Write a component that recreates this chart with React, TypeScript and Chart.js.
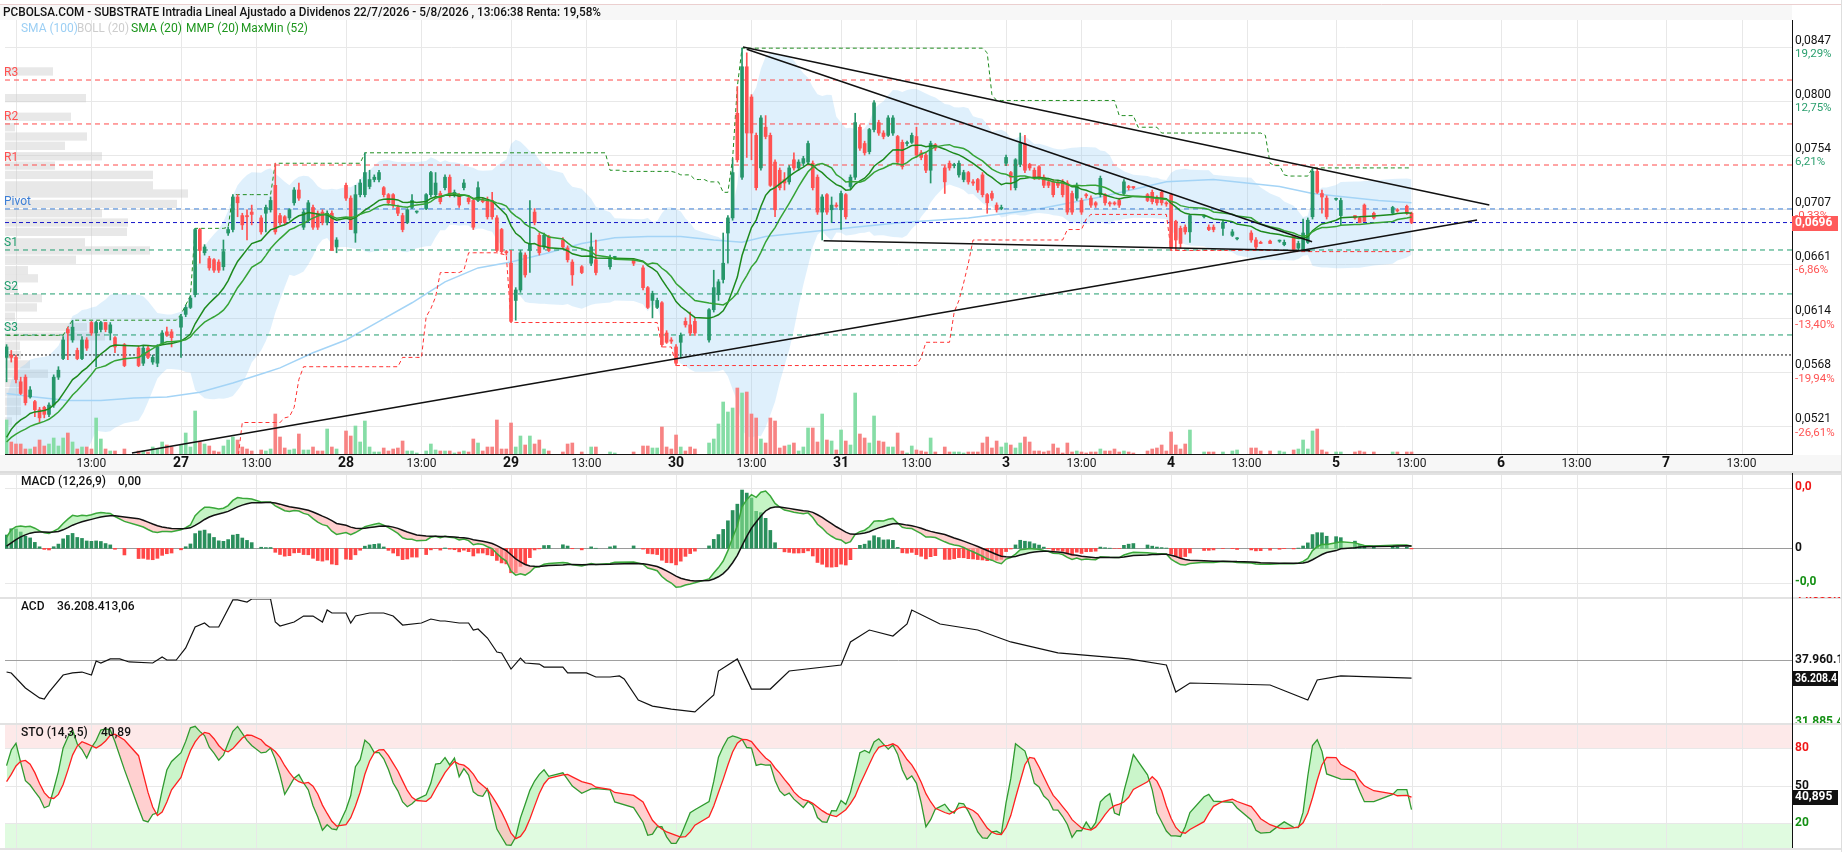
import React, { useEffect, useRef } from "react";
import { Chart, registerables } from "chart.js";

Chart.register(...registerables);

const FONT = 'Roboto, "Liberation Sans", Arial, sans-serif';
Chart.defaults.font.family = FONT;

const _ = null;

/* ---------------- texts ---------------- */
const TITLE = "PCBOLSA.COM - SUBSTRATE Intradia Lineal Ajustado a Dividenos 22/7/2026 - 5/8/2026 , 13:06:38 Renta: 19,58%";
const legendLabels = ["SMA (100)", "BOLL (20)", "SMA (20)", "MMP (20)", "MaxMin (52)"];

/* ---------------- x axis (one slot = 15 min bar) ---------------- */
const dayLabels = ["27", "28", "29", "30", "31", "3", "4", "5", "6", "7"];
const dayStartSlots = [37, 72, 107, 142, 177, 212, 247, 282, 317, 352];
const hourLabel = "13:00";
const hourSlots = [18, 53, 88, 123, 158, 193, 228, 263, 298, 333, 368];
const unlabeledDayStarts = [2];
const X_MIN = -0.33;
const X_MAX = 378.7;

/* ---------------- price axis ---------------- */
const priceTickValues = [0.0847, 0.08004, 0.07539, 0.07073, 0.06607, 0.06142, 0.05676, 0.0521];
const priceTickLabels = ["0,0847", "0,0800", "0,0754", "0,0707", "0,0661", "0,0614", "0,0568", "0,0521"];
const pctTickLabels = ["19,29%", "12,75%", "6,21%", "-0,33%", "-6,86%", "-13,40%", "-19,94%", "-26,61%"];
const PRICE_MAX = 0.087023;
const PRICE_MIN = 0.049691;

/* ---------------- pivots / levels ---------------- */
const pivotNames = ["R3", "R2", "R1", "Pivot", "S1", "S2", "S3"];
const pivotValues = [0.08186, 0.07808, 0.07455, 0.07077, 0.06724, 0.06346, 0.05993];
const lastPrice = 0.0696;
const lastPriceLabel = "0,0696";
const refLevel = 0.05821;

/* ---------------- trend lines [slot, price] ---------------- */
const trendLines = [
  [[26.6, 0.04978], [311.9, 0.06982]],
  [[156.2, 0.0847], [314.5, 0.07111]],
  [[157.0, 0.0845], [276.9, 0.06795]],
  [[173.3, 0.06804], [276.5, 0.06718]],
];

/* ---------------- candles, prices in units of 0.0001 ---------------- */
const openPips = [
  580,582,580,559,563,546,542,535,537,531,
  539,563,579,604,595,586,579,595,610,601,
  604,610,601,597,_,591,_,_,588,575,
  588,576,575,592,602,602,_,606,617,623,
  634,690,670,665,664,662,658,687,690,718,
  702,702,705,_,700,704,707,728,702,701,
  700,713,724,692,698,709,704,705,696,704,
  675,_,728,717,687,720,720,727,733,733,
  726,720,720,709,702,696,709,705,_,708,
  720,720,721,726,735,720,720,726,717,715,
  715,715,715,715,700,690,671,661,629,638,
  668,672,705,685,675,684,_,_,681,674,
  662,_,658,_,661,664,_,_,658,666,
  _,_,_,664,_,657,640,629,623,627,
  601,595,589,593,611,608,611,_,_,595,
  621,634,647,687,700,790,735,830,804,771,
  743,778,771,748,741,733,731,750,743,747,
  748,747,735,705,720,707,711,707,720,727,
  735,778,764,757,776,782,773,771,773,770,
  765,764,765,770,756,754,741,763,_,743,
  747,745,737,733,739,731,733,737,720,721,
  711,708,747,739,726,746,764,746,741,744,
  735,731,731,730,731,730,721,717,715,720,
  717,713,720,720,713,713,715,721,727,727,
  _,_,720,722,717,722,713,720,697,691,
  692,688,_,_,701,692,692,_,691,_,
  685,682,_,_,687,681,679,_,680,_,
  680,677,_,684,674,672,679,701,740,721,
  717,_,716,702,_,_,702,700,711,_,
  704,_,_,_,704,707,_,710,704,
];
const highPips = [
  591,586,582,563,565,555,543,537,538,541,
  565,572,598,606,612,588,598,597,611,611,
  611,610,610,598,_,592,_,_,590,590,
  590,582,591,603,606,604,_,617,625,633,
  691,691,677,667,665,664,681,692,720,720,
  704,707,711,_,702,711,718,747,704,702,
  708,726,730,707,715,711,706,707,706,706,
  683,_,730,719,728,733,756,741,737,741,
  727,721,721,711,704,708,720,706,_,721,
  740,739,723,737,737,724,721,733,719,717,
  731,717,718,722,702,691,672,672,640,672,
  670,715,708,687,687,685,_,_,683,676,
  664,_,659,_,687,681,_,_,668,667,
  _,_,_,665,_,659,641,637,631,628,
  603,597,591,601,614,619,614,_,_,622,
  655,647,687,702,751,813,846,842,806,773,
  788,788,773,750,743,739,745,756,750,753,
  766,749,737,720,721,718,713,723,721,737,
  790,780,766,777,801,784,775,788,788,771,
  767,766,773,778,758,756,766,764,_,745,
  749,747,749,741,740,733,734,739,721,723,
  713,711,754,740,751,773,771,747,743,745,
  737,733,733,732,733,732,723,730,717,721,
  719,714,736,721,714,714,717,733,728,727,
  _,_,721,724,719,724,714,721,698,693,
  694,703,_,_,702,694,694,_,698,_,
  690,683,_,_,689,683,680,_,681,_,
  681,681,_,685,680,699,700,743,743,724,
  719,_,717,717,_,_,702,701,712,_,
  705,_,_,_,710,708,_,711,705,
];
const lowPips = [
  559,576,558,548,539,545,529,524,528,529,
  537,561,578,578,593,578,578,586,599,572,
  602,602,595,584,_,572,_,_,572,573,
  579,574,572,591,598,589,_,580,615,622,
  632,661,668,655,653,653,655,685,688,701,
  690,681,694,_,686,688,705,686,694,694,
  698,711,715,690,696,690,690,694,694,672,
  670,_,715,690,679,718,718,725,731,731,
  718,711,709,702,688,695,708,704,_,707,
  718,718,712,724,718,718,709,724,712,690,
  714,713,699,699,671,669,668,610,612,636,
  649,653,694,668,673,671,_,_,673,662,
  642,_,652,_,659,651,_,_,656,665,
  _,_,_,659,_,638,622,614,622,589,
  592,592,573,580,606,599,599,_,_,593,
  619,629,644,661,698,748,733,752,750,724,
  741,768,727,701,724,724,729,741,741,745,
  746,724,703,681,703,696,709,690,699,725,
  733,758,754,755,774,771,768,770,771,746,
  742,762,764,752,750,739,730,758,_,721,
  741,743,735,731,729,728,722,718,704,715,
  705,707,745,724,724,744,739,741,733,733,
  726,726,718,726,718,703,703,715,703,717,
  709,709,718,711,710,711,709,720,724,725,
  _,_,714,712,711,711,710,672,672,674,
  686,679,_,_,700,689,688,_,685,_,
  684,681,_,_,679,673,678,_,678,_,
  679,676,_,671,672,672,678,699,721,704,
  699,_,715,694,_,_,699,696,697,_,
  699,_,_,_,703,705,_,703,695,
];
const closePips = [
  589,580,561,549,541,552,535,528,531,539,
  563,569,595,601,606,579,595,588,601,610,
  610,604,608,589,_,573,_,_,573,588,
  580,580,589,601,599,597,_,615,623,631,
  690,672,675,657,655,655,671,690,718,713,
  694,701,703,_,688,709,715,688,696,696,
  707,724,717,705,713,692,692,696,704,672,
  681,_,717,690,720,730,739,733,735,739,
  720,713,711,704,690,707,715,705,_,720,
  739,730,714,735,720,722,711,730,714,692,
  726,714,701,701,672,671,670,611,638,670,
  651,678,696,670,685,672,_,_,675,664,
  651,_,653,_,675,653,_,_,666,666,
  _,_,_,661,_,640,623,635,629,591,
  593,594,575,599,608,601,601,_,_,621,
  640,645,661,700,739,750,830,773,773,726,
  786,770,728,707,726,730,743,743,748,751,
  764,726,705,718,705,711,710,721,701,735,
  782,760,756,776,799,773,770,786,786,748,
  744,764,771,754,752,741,764,760,_,731,
  743,745,747,739,731,730,724,720,713,717,
  707,709,752,735,750,764,741,743,735,735,
  728,728,720,728,720,705,705,728,705,719,
  711,711,734,713,712,712,711,731,726,726,
  _,_,715,714,713,713,712,674,681,678,
  688,702,_,_,701,690,690,_,696,_,
  688,682,_,_,681,675,678,_,678,_,
  680,679,_,673,678,687,698,740,722,718,
  701,_,716,715,_,_,700,696,697,_,
  700,_,_,_,709,706,_,704,696,
];
/* volume, thousands of units */
const volume = [
  34,12,10,10,5,5,7,14,8,10,
  16,8,16,21,12,5,7,7,5,36,
  15,5,3,3,_,5,_,_,3,3,
  2,7,5,12,9,7,_,9,21,7,
  43,12,10,8,3,2,8,14,17,14,
  7,5,3,_,4,3,5,40,17,6,
  4,5,20,4,4,7,3,3,25,7,
  5,_,23,18,28,12,33,7,2,2,
  6,3,5,6,13,3,3,1,_,3,
  10,4,3,3,3,1,2,3,2,15,
  11,3,7,7,34,5,5,31,7,18,
  9,18,10,14,5,3,_,_,2,10,
  11,_,2,_,7,7,_,_,2,1,
  _,_,_,2,_,8,8,6,6,27,
  7,5,19,7,3,7,5,_,_,11,
  15,30,52,42,46,66,61,62,40,36,
  15,11,36,33,6,8,9,11,3,7,
  26,26,12,40,14,13,4,24,13,9,
  61,20,16,11,38,13,12,7,7,21,
  3,1,8,4,3,2,16,2,_,7,
  2,2,2,1,2,2,2,11,17,6,
  13,7,11,9,6,11,17,12,3,3,
  2,3,10,6,1,11,2,3,2,1,
  2,2,5,3,3,5,2,3,2,1,
  _,_,3,5,6,9,3,22,9,5,
  10,24,_,_,2,2,2,_,2,_,
  3,4,_,_,6,6,3,_,3,_,
  3,2,_,4,5,14,5,23,25,4,
  2,_,2,2,_,_,2,3,2,_,
  2,_,_,_,2,2,_,2,2,
];

/* price level of the bars before the window (where SMA (20) starts), used only to warm up indicators */
const priorCloseLevel = 0.0503;
const warmupBars = 30;

/* ---------------- SMA (100) ---------------- */
const sma100Slots = [0, 6, 13, 20, 27, 34, 41, 48, 55, 58, 65, 72, 79, 86, 93, 100, 107, 115, 122, 129, 136, 143, 150, 156, 161, 175, 190, 204, 218, 232, 246, 256, 263, 270, 277, 284, 291, 298];
const sma100Values = [0.0549, 0.0546, 0.0543, 0.0543, 0.0545, 0.0546, 0.055, 0.0558, 0.0567, 0.0571, 0.0584, 0.0595, 0.0611, 0.0627, 0.0645, 0.0657, 0.0662, 0.067, 0.0678, 0.0683, 0.0684, 0.0684, 0.0681, 0.0679, 0.0684, 0.069, 0.0696, 0.07, 0.0707, 0.0718, 0.0731, 0.0733, 0.073, 0.0727, 0.0721, 0.0718, 0.0715, 0.0713];

/* MaxMin(52) values carried in from before the window */
const priorHigh = 0.0599;
const priorHighUntil = 14;
const priorLow = 0.049;
const priorLowUntil = 50;

/* ---------------- volume profile (price level, volume) ---------------- */
const vpPrice = [0.0826, 0.0803, 0.0787, 0.0778, 0.077, 0.0762, 0.0753, 0.0745, 0.0737, 0.0728, 0.0721, 0.0712, 0.0704, 0.0696, 0.0688, 0.0679, 0.0672, 0.0664, 0.0655, 0.0648, 0.0639, 0.0631, 0.0623, 0.0615, 0.0606, 0.0598, 0.059, 0.0582, 0.0574, 0.0566, 0.0558, 0.055, 0.0542, 0.0534, 0.0525];
const vpVolume = [48, 81, 66, 10, 82, 60, 97, 50, 148, 148, 183, 172, 97, 123, 122, 80, 145, 71, 23, 33, 13, 37, 32, 10, 82, 100, 15, 16, 25, 43, 16, 16, 16, 16, 7];

/* ---------------- ACD (millions) ---------------- */
const acdSlots = [0,1,4,7,8,9,12,14,16,18,19,20,22,24,26,31,33,34,36,38,40,42,43,45,46,48,49,51,52,56,57,58,61,63,65,67,68,69,72,73,74,77,80,82,84,88,90,92,93,96,98,99,100,102,104,105,107,109,110,113,114,118,119,123,125,128,130,131,134,137,141,146,150,151,155,158,162,166,177,179,183,188,191,192,198,206,213,223,238,246,248,251,268,276,278,283,298];
const acdMillions = [36.8,36.71,35.26,34.3,34.2,34.87,36.51,36.71,36.8,36.51,37.86,37.67,38.06,38.06,37.77,37.67,38.25,37.96,37.96,39.12,41.14,41.53,41.14,41.14,42.01,43.75,43.75,43.55,43.84,43.84,41.62,41.24,41.62,42.2,42.2,41.62,42.78,42.49,42.49,41.53,42.2,42.49,42.49,42.2,41.33,41.53,41.91,41.72,41.72,41.53,41.53,40.85,40.95,40.08,38.73,38.64,37.09,38.15,37.67,37.57,37.28,37.28,36.71,36.71,36.32,36.32,36.42,36.13,34.1,33.52,33.23,32.95,34.58,36.9,38.06,35.16,35.16,36.9,37.48,39.7,40.85,40.27,41.43,42.78,41.43,40.85,39.7,38.64,38.06,37.48,34.87,35.74,35.55,34.1,36.03,36.42,36.21];
const ACD_MIN = 31.8854;
const ACD_MAX = 44.0348;
const acdMidValue = 37.9601;
const acdLabels = ["44.035.8", "37.960.1", "36.208.4", "31.885.4"];
const acdTitle = "36.208.413,06";
const stoTitle = "40,89";
const stoLast = 40.895;
const stoLastLabel = "40,895";

/* ---------------- colours ---------------- */
const UP = "#26966a";
const DOWN = "#ff5252";
const VOL_UP = "#86dda6";
const VOL_DOWN = "#f78383";
const GRID = "#e8e8e8";

/* ---------------- derived series ---------------- */
const PIP = 0.0001;
const toPrice = (a) => a.map((v) => (v == null ? null : v * PIP));
const open = toPrice(openPips);
const high = toPrice(highPips);
const low = toPrice(lowPips);
const close = toPrice(closePips);
const N = close.length;
const bars: number[] = [];
for (let k = 0; k < N; k++) if (close[k] != null) bars.push(k);
const prior = new Array(warmupBars).fill(priorCloseLevel);
const wClose = [...prior, ...bars.map((k) => close[k])];
const wHigh = [...prior, ...bars.map((k) => high[k])];
const wLow = [...prior, ...bars.map((k) => low[k])];
const cut = (a: number[]) => a.slice(warmupBars);

function sma(v: number[], n: number) {
  const out: number[] = [];
  let s = 0;
  for (let i = 0; i < v.length; i++) {
    s += v[i];
    if (i >= n) s -= v[i - n];
    out.push(s / Math.min(i + 1, n));
  }
  return out;
}
function wma(v: number[], n: number) {
  return v.map((_x, i) => {
    const s = Math.max(0, i - n + 1);
    let num = 0, den = 0;
    for (let j = s; j <= i; j++) { const w = j - s + 1; num += v[j] * w; den += w; }
    return num / den;
  });
}
function stdev(v: number[], n: number) {
  return v.map((_x, i) => {
    const w = v.slice(Math.max(0, i - n + 1), i + 1);
    const m = w.reduce((a, b) => a + b, 0) / w.length;
    return Math.sqrt(w.reduce((a, b) => a + (b - m) * (b - m), 0) / w.length);
  });
}
function ema(v: number[], n: number) {
  const k = 2 / (n + 1);
  let e = v[0];
  return v.map((x, i) => (e = i === 0 ? x : x * k + e * (1 - k)));
}

const wSma20 = sma(wClose, 20);
const wSd20 = stdev(wClose, 20);
const sma20 = cut(wSma20);
const mmp20 = cut(wma(wClose, 20));
const bollUp = cut(wSma20.map((m, i) => m + 2 * wSd20[i]));
const bollDn = cut(wSma20.map((m, i) => m - 2 * wSd20[i]));

const maxMinUp: number[] = [];
const maxMinDn: number[] = [];
for (let k = 0; k < N; k++) {
  let hi = k < priorHighUntil ? priorHigh : -Infinity;
  let lo = k < priorLowUntil ? priorLow : Infinity;
  for (let j = Math.max(0, k - 51); j <= k; j++) {
    if (high[j] != null) hi = Math.max(hi, high[j]);
    if (low[j] != null) lo = Math.min(lo, low[j]);
  }
  maxMinUp.push(hi);
  maxMinDn.push(lo);
}

const wMacd = ema(wClose, 12).map((v, i) => v - ema(wClose, 26)[i]);
const wSignal = ema(wMacd, 9);
const macd = cut(wMacd);
const signal = cut(wSignal);
const hist = macd.map((v, i) => v - signal[i]);

const wRawK = wClose.map((c, i) => {
  const s = Math.max(0, i - 13);
  let hh = -Infinity, ll = Infinity;
  for (let j = s; j <= i; j++) { hh = Math.max(hh, wHigh[j]); ll = Math.min(ll, wLow[j]); }
  return hh === ll ? 50 : ((c - ll) / (hh - ll)) * 100;
});
const wK = sma(wRawK, 3);
const stoK = cut(wK);
const stoD = cut(sma(wK, 5));

const atBars = (vals: number[]) => bars.map((k, i) => ({ x: k, y: vals[i] }));
const atSlots = (vals: number[]) => vals.map((v, k) => ({ x: k, y: v }));

/* ---------------- drawing helpers ---------------- */
function text(ctx, s, x, y, font, color, align = "left", maxW?: number) {
  ctx.font = font;
  ctx.fillStyle = color;
  ctx.textAlign = align;
  ctx.textBaseline = "middle";
  if (maxW) ctx.fillText(s, x, y, maxW);
  else ctx.fillText(s, x, y);
}
function hline(ctx, x0, x1, y, color, dash: number[] = []) {
  ctx.save();
  ctx.strokeStyle = color;
  ctx.lineWidth = 1;
  ctx.setLineDash(dash);
  ctx.beginPath();
  ctx.moveTo(x0, Math.round(y) + 0.5);
  ctx.lineTo(x1, Math.round(y) + 0.5);
  ctx.stroke();
  ctx.restore();
}
function vgrid(chart) {
  const { ctx, chartArea: a, scales } = chart;
  const x = scales.x;
  ctx.save();
  ctx.strokeStyle = GRID;
  ctx.lineWidth = 1;
  [...unlabeledDayStarts, ...dayStartSlots, ...hourSlots].forEach((s) => {
    const px = Math.round(x.getPixelForValue(s)) + 0.5;
    ctx.beginPath();
    ctx.moveTo(px, a.top);
    ctx.lineTo(px, a.bottom);
    ctx.stroke();
  });
  ctx.restore();
}
function frame(chart) {
  const { ctx, chartArea: a } = chart;
  ctx.save();
  ctx.strokeStyle = "#111";
  ctx.lineWidth = 1;
  ctx.beginPath();
  ctx.moveTo(Math.round(a.right) + 0.5, a.top);
  ctx.lineTo(Math.round(a.right) + 0.5, a.bottom);
  ctx.stroke();
  ctx.strokeStyle = "#dedede";
  ctx.beginPath();
  ctx.moveTo(1841.5, 0);
  ctx.lineTo(1841.5, chart.height);
  ctx.stroke();
  ctx.restore();
}
function badge(ctx, label, y, bg, fg) {
  ctx.fillStyle = bg;
  ctx.fillRect(1792, Math.round(y) - 7, 46, 15);
  text(ctx, label, 1795, y + 0.5, "bold 12px " + FONT, fg, "left", 42);
}

const xScale = { type: "linear", min: X_MIN, max: X_MAX, display: false, offset: false };
const baseOpts = {
  responsive: false,
  maintainAspectRatio: false,
  animation: false,
  devicePixelRatio: 1,
  events: [],
  plugins: { legend: { display: false }, tooltip: { enabled: false } },
};
const lineDs = (data, color, width, extra = {}) => ({
  type: "line",
  data,
  borderColor: color,
  borderWidth: width,
  pointRadius: 0,
  tension: 0,
  spanGaps: true,
  fill: false,
  ...extra,
});

/* ---------------- main chart ---------------- */
function mainConfig() {
  const colors = bars.map((k) => (close[k] >= open[k] ? UP : DOWN));
  const vColors = bars.map((k) => (close[k] >= open[k] ? VOL_UP : VOL_DOWN));
  const datasets: any[] = [
    lineDs(atBars(bollUp), "rgba(0,0,0,0)", 0, { order: 20 }),
    lineDs(atBars(bollDn), "rgba(0,0,0,0)", 0, { order: 20, fill: "-1", backgroundColor: "rgba(135,200,245,0.27)" }),
    {
      type: "bar", yAxisID: "yv", order: 19, grouped: false, barThickness: 3, minBarLength: 1,
      data: bars.map((k) => ({ x: k, y: volume[k] })), backgroundColor: vColors,
    },
    lineDs(sma100Slots.map((s, i) => ({ x: s, y: sma100Values[i] })), "#a4d4f6", 1.5, { order: 18 }),
  ];
  pivotNames.forEach((n, i) => {
    const c = i < 3 ? "#ff4a4a" : i === 3 ? "#3d7fd6" : "#1f9d6d";
    datasets.push(lineDs([{ x: X_MIN, y: pivotValues[i] }, { x: X_MAX, y: pivotValues[i] }], c, 1, { order: 17, borderDash: [5, 4] }));
  });
  datasets.push(lineDs([{ x: X_MIN, y: lastPrice }, { x: X_MAX, y: lastPrice }], "#1414c8", 1, { order: 17, borderDash: [4, 3] }));
  datasets.push(lineDs([{ x: X_MIN, y: refLevel }, { x: X_MAX, y: refLevel }], "#111", 1, { order: 17, borderDash: [2, 2] }));
  datasets.push(lineDs(atSlots(maxMinUp), "#1f8c1f", 1, { order: 16, borderDash: [4, 3] }));
  datasets.push(lineDs(atSlots(maxMinDn), "#ff3434", 1, { order: 16, borderDash: [4, 3] }));
  datasets.push({
    type: "bar", order: 15, grouped: false, barThickness: 1, minBarLength: 1,
    data: bars.map((k) => ({ x: k, y: [low[k], high[k]] })), backgroundColor: colors,
  });
  datasets.push({
    type: "bar", order: 14, grouped: false, barThickness: 3, minBarLength: 1,
    data: bars.map((k) => ({ x: k, y: [open[k], close[k]] })), backgroundColor: colors,
  });
  datasets.push(lineDs(atBars(sma20), "#35a335", 1.5, { order: 13 }));
  datasets.push(lineDs(atBars(mmp20), "#1d8a1d", 1.5, { order: 13 }));
  trendLines.forEach((t) => {
    datasets.push(lineDs(t.map((p) => ({ x: p[0], y: p[1] })), "#111", 1.5, { order: 12 }));
  });

  const plugin = {
    id: "mainDecor",
    beforeDraw(chart) {
      const ctx = chart.ctx;
      ctx.save();
      ctx.fillStyle = "#fff";
      ctx.fillRect(0, 0, chart.width, chart.height);
      ctx.fillStyle = "#f7f7f7";
      ctx.fillRect(0, 5, 1792, 15);
      ctx.fillStyle = "#f7f7f7";
      ctx.fillRect(0, 455, 1842, 17);
      ctx.fillStyle = "#dcdcdc";
      ctx.fillRect(0, 471, 1842, 2);
      ctx.strokeStyle = "#ebcfcf";
      ctx.beginPath();
      ctx.moveTo(0, 4.5);
      ctx.lineTo(1842, 4.5);
      ctx.stroke();
      ctx.restore();
    },
    beforeDatasetsDraw(chart) {
      const { ctx, chartArea: a, scales } = chart;
      const y = scales.y;
      ctx.save();
      priceTickValues.forEach((v) => hline(ctx, a.left, a.right, y.getPixelForValue(v), GRID));
      vgrid(chart);
      const maxV = Math.max(...vpVolume);
      ctx.fillStyle = "rgba(205,205,205,0.45)";
      vpPrice.forEach((p, i) => {
        const y0 = y.getPixelForValue(p + 0.0004);
        const y1 = y.getPixelForValue(p - 0.0004);
        ctx.fillRect(a.left, y0 + 0.5, (vpVolume[i] / maxV) * 183, y1 - y0 - 1);
      });
      ctx.restore();
    },
    afterDraw(chart) {
      const { ctx, chartArea: a, scales } = chart;
      const x = scales.x, y = scales.y;
      ctx.save();
      text(ctx, TITLE, 3, 12.5, "500 13px " + FONT, "#111", "left", 598);
      const lx = [21, 77, 131, 186, 241];
      const lw = [57, 52, 51, 53, 67];
      const lc = ["#9ccff4", "#cdcdcd", "#1d961d", "#1d961d", "#1d961d"];
      legendLabels.forEach((l, i) => text(ctx, l, lx[i], 28.5, "13px " + FONT, lc[i], "left", lw[i]));
      pivotNames.forEach((n, i) => {
        const c = i < 3 ? "#ff5050" : i === 3 ? "#3d7fd6" : "#1f9d6d";
        text(ctx, n, 4, y.getPixelForValue(pivotValues[i]) - 7, "12px " + FONT, c);
      });
      frame(chart);
      ctx.fillStyle = "#fff";
      ctx.fillRect(1793, a.top, 48, a.bottom - a.top);
      priceTickValues.forEach((v, i) => {
        const py = y.getPixelForValue(v);
        text(ctx, priceTickLabels[i], 1795, py - 6.5, "12px " + FONT, "#111");
        text(ctx, pctTickLabels[i], 1795, py + 7, "11.5px " + FONT, i < 3 ? "#2a9f6e" : "#ff5555");
      });
      badge(ctx, lastPriceLabel, y.getPixelForValue(lastPrice), "#ff5a5a", "#fff");
      hourSlots.forEach((s) => text(ctx, hourLabel, x.getPixelForValue(s), 463.5, "12px " + FONT, "#222", "center"));
      dayLabels.forEach((d, i) => text(ctx, d, x.getPixelForValue(dayStartSlots[i]), 463.5, "bold 14px " + FONT, "#111", "center"));
      ctx.strokeStyle = "#111";
      ctx.beginPath();
      ctx.moveTo(a.left, 454.5);
      ctx.lineTo(1793, 454.5);
      ctx.stroke();
      ctx.restore();
    },
  };

  return {
    type: "line",
    data: { datasets },
    options: {
      ...baseOpts,
      layout: { padding: { left: 5, right: 54, top: 20, bottom: 19 } },
      scales: {
        x: xScale,
        y: { type: "linear", min: PRICE_MIN, max: PRICE_MAX, display: false },
        yv: { type: "linear", min: 0, max: 434, display: false },
      },
    },
    plugins: [plugin],
  };
}

/* ---------------- MACD ---------------- */
function macdConfig() {
  const peak = Math.max(...macd);
  const yMax = (peak * 75.3) / 57.3;
  const yMin = (-yMax * 48.7) / 75.3;
  const hColors = hist.map((h) => (h >= 0 ? "#2a8f5c" : "#ff4747"));
  const plugin = {
    id: "macdDecor",
    beforeDraw(chart) {
      const ctx = chart.ctx;
      ctx.fillStyle = "#fff";
      ctx.fillRect(0, 0, chart.width, chart.height);
    },
    beforeDatasetsDraw(chart) {
      const { ctx, chartArea: a, scales } = chart;
      vgrid(chart);
      hline(ctx, a.left, a.right, 15, GRID);
      hline(ctx, a.left, a.right, 110, GRID);
      hline(ctx, a.left, a.right, scales.y.getPixelForValue(0), "#9a9a9a");
    },
    afterDraw(chart) {
      const { ctx, scales } = chart;
      ctx.save();
      ctx.fillStyle = "#e2e2e2";
      ctx.fillRect(0, 0, 1842, 2);
      text(ctx, "MACD (12,26,9)", 21, 9, "500 12px " + FONT, "#111");
      text(ctx, "0,00", 118, 9, "500 12px " + FONT, "#111");
      frame(chart);
      text(ctx, "0,0", 1795, 14, "bold 12px " + FONT, "#f01818");
      text(ctx, "0", 1795, scales.y.getPixelForValue(0), "bold 12px " + FONT, "#111");
      text(ctx, "-0,0", 1795, 109, "bold 12px " + FONT, "#149014");
      ctx.restore();
    },
  };
  return {
    type: "line",
    data: {
      datasets: [
        {
          type: "bar", yAxisID: "yh", order: 5, grouped: false, barThickness: 3,
          data: atBars(hist), backgroundColor: hColors,
        },
        lineDs(atBars(macd), "#3aa83a", 1.5, {
          order: 2,
          fill: { target: "+1", above: "rgba(150,235,150,0.55)", below: "rgba(255,175,175,0.6)" },
        }),
        lineDs(atBars(signal), "#111", 1.5, { order: 1 }),
      ],
    },
    options: {
      ...baseOpts,
      layout: { padding: { left: 5, right: 54, top: 0, bottom: 0 } },
      scales: {
        x: xScale,
        y: { type: "linear", min: yMin, max: yMax, display: false },
        yh: { type: "linear", min: yMin / 1.5, max: yMax / 1.5, display: false },
      },
    },
    plugins: [plugin],
  };
}

/* ---------------- ACD ---------------- */
function acdConfig() {
  const plugin = {
    id: "acdDecor",
    beforeDraw(chart) {
      const ctx = chart.ctx;
      ctx.fillStyle = "#fff";
      ctx.fillRect(0, 0, chart.width, chart.height);
    },
    beforeDatasetsDraw(chart) {
      const { ctx, chartArea: a, scales } = chart;
      vgrid(chart);
      hline(ctx, a.left, a.right, scales.y.getPixelForValue(acdMidValue), "#a0a0a0");
    },
    afterDraw(chart) {
      const { ctx, scales } = chart;
      const y = scales.y;
      ctx.save();
      ctx.fillStyle = "#e2e2e2";
      ctx.fillRect(0, 0, 1842, 2);
      text(ctx, "ACD", 21, 9.5, "500 12px " + FONT, "#111");
      text(ctx, acdTitle, 57, 9.5, "500 12px " + FONT, "#111");
      frame(chart);
      ctx.beginPath();
      ctx.rect(1793, 0, 47, chart.height);
      ctx.clip();
      text(ctx, acdLabels[0], 1795, -2, "bold 12px " + FONT, "#f01818");
      text(ctx, acdLabels[1], 1795, y.getPixelForValue(acdMidValue), "bold 12px " + FONT, "#111");
      badge(ctx, acdLabels[2], y.getPixelForValue(acdMillions[acdMillions.length - 1]), "#111", "#fff");
      text(ctx, acdLabels[3], 1795, 125, "bold 12px " + FONT, "#149014");
      ctx.restore();
    },
  };
  return {
    type: "line",
    data: {
      datasets: [lineDs(acdSlots.map((s, i) => ({ x: s, y: acdMillions[i] })), "#111", 1.2)],
    },
    options: {
      ...baseOpts,
      layout: { padding: { left: 5, right: 54, top: 0, bottom: 0 } },
      scales: { x: xScale, y: { type: "linear", min: ACD_MIN, max: ACD_MAX, display: false } },
    },
    plugins: [plugin],
  };
}

/* ---------------- STO ---------------- */
function stoConfig() {
  const plugin = {
    id: "stoDecor",
    beforeDraw(chart) {
      const ctx = chart.ctx;
      ctx.fillStyle = "#fff";
      ctx.fillRect(0, 0, chart.width, chart.height);
    },
    beforeDatasetsDraw(chart) {
      const { ctx, chartArea: a, scales } = chart;
      const y = scales.y;
      ctx.save();
      ctx.fillStyle = "#fde9e9";
      ctx.fillRect(a.left, y.getPixelForValue(100), a.right - a.left, y.getPixelForValue(80) - y.getPixelForValue(100));
      ctx.fillStyle = "#e0fbe0";
      ctx.fillRect(a.left, y.getPixelForValue(20), a.right - a.left, y.getPixelForValue(0) - y.getPixelForValue(20));
      ctx.restore();
      vgrid(chart);
      [80, 50, 20].forEach((v) => hline(ctx, a.left, a.right, y.getPixelForValue(v), GRID));
    },
    afterDraw(chart) {
      const { ctx, scales } = chart;
      const y = scales.y;
      ctx.save();
      ctx.fillStyle = "#e2e2e2";
      ctx.fillRect(0, 0, 1842, 2);
      ctx.fillRect(0, 125, 1842, 2);
      text(ctx, "STO (14,3,5)", 21, 10, "500 12px " + FONT, "#111");
      text(ctx, stoTitle, 101, 10, "500 12px " + FONT, "#111");
      frame(chart);
      text(ctx, "80", 1795, y.getPixelForValue(80), "bold 12px " + FONT, "#f01818");
      text(ctx, "50", 1795, y.getPixelForValue(50), "bold 12px " + FONT, "#111");
      text(ctx, "20", 1795, y.getPixelForValue(20), "bold 12px " + FONT, "#149014");
      badge(ctx, stoLastLabel, y.getPixelForValue(stoLast), "#111", "#fff");
      ctx.restore();
    },
  };
  return {
    type: "line",
    data: {
      datasets: [
        lineDs(atBars(stoK), "#2f9a2f", 1.3, {
          order: 2,
          fill: { target: "+1", above: "rgba(150,235,150,0.5)", below: "rgba(255,170,170,0.55)" },
        }),
        lineDs(atBars(stoD), "#ff2020", 1.3, { order: 1 }),
      ],
    },
    options: {
      ...baseOpts,
      layout: { padding: { left: 5, right: 54, top: 0, bottom: 4 } },
      scales: { x: xScale, y: { type: "linear", min: 0, max: 100, display: false } },
    },
    plugins: [plugin],
  };
}

export default function App() {
  const mainRef = useRef<HTMLCanvasElement>(null);
  const macdRef = useRef<HTMLCanvasElement>(null);
  const acdRef = useRef<HTMLCanvasElement>(null);
  const stoRef = useRef<HTMLCanvasElement>(null);

  useEffect(() => {
    document.body.style.margin = "0";
    const charts = [
      new Chart(mainRef.current as any, mainConfig() as any),
      new Chart(macdRef.current as any, macdConfig() as any),
      new Chart(acdRef.current as any, acdConfig() as any),
      new Chart(stoRef.current as any, stoConfig() as any),
    ];
    return () => charts.forEach((c) => c.destroy());
  }, []);

  const pos = (top: number) => ({ position: "absolute" as const, left: 0, top });
  return (
    <div style={{ position: "fixed", left: 0, top: 0, width: 1846, height: 852, background: "#fff", overflow: "hidden" }}>
      <canvas ref={mainRef} width={1846} height={473} style={pos(0)} />
      <canvas ref={macdRef} width={1846} height={124} style={pos(473)} />
      <canvas ref={acdRef} width={1846} height={126} style={pos(597)} />
      <canvas ref={stoRef} width={1846} height={129} style={pos(723)} />
    </div>
  );
}
